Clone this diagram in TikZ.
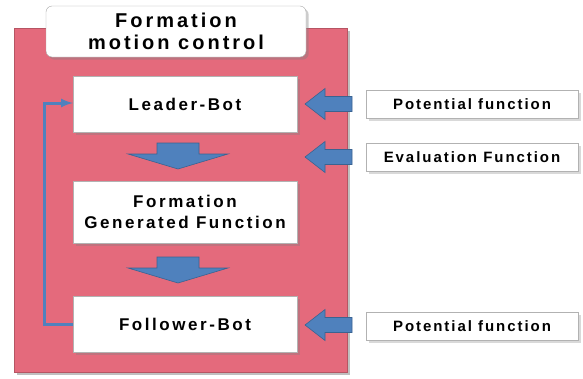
\documentclass[tikz,border=0pt]{standalone}
\usepackage{fontspec}
\setmainfont{Liberation Sans}
\newfontfamily\widesans[LetterSpace=15]{Liberation Sans}
\newfontfamily\inputsans[LetterSpace=13]{Liberation Sans}
\usetikzlibrary{shadows}
\definecolor{panelred}{HTML}{E46A7C}
\definecolor{arrowblue}{HTML}{4F81BD}
\definecolor{arrowedge}{HTML}{3A6391}
\tikzstyle{botbox}=[draw=gray!60,fill=white,drop shadow={opacity=0.35},minimum width=224pt,inner sep=0pt,align=center,font=\widesans\bfseries\fontsize{17}{21}\selectfont]
\tikzstyle{inbox}=[draw=gray!60,fill=white,drop shadow={opacity=0.3},minimum width=212pt,minimum height=28pt,inner sep=0pt,font=\inputsans\bfseries\fontsize{15}{17}\selectfont]
\tikzstyle{blockarr}=[draw=arrowedge,fill=arrowblue,line width=0.6pt]

\begin{document}
\begin{tikzpicture}[x=1pt,y=-1pt]
    \useasboundingbox (0,0) rectangle (583,378);
    \node[fill=panelred,draw=panelred!80!black,drop shadow={opacity=0.5},minimum width=333pt,minimum height=344pt] (panel) at (180.5,200) {};
    \node[fill=white,draw=gray!70,rounded corners=6pt,drop shadow={opacity=0.4},minimum width=260pt,minimum height=51pt,align=center,font=\widesans\bfseries\fontsize{20}{22}\selectfont] (title) at (176,31.5) {Formation\\motion control};

    \node[botbox,minimum height=56pt] (leader) at (185,104) {Leader-Bot};
    \node[botbox,minimum height=62pt] (formgen) at (185,212) {Formation\\Generated Function};
    \node[botbox,minimum height=56pt] (follower) at (185,324) {Follower-Bot};

    \node[inbox] (pot1) at (472,104) {Potential function};
    \node[inbox] (eval) at (472,157) {Evaluation Function};
    \node[inbox] (pot2) at (472,326) {Potential function};

    % down arrows between the boxes
    \foreach \cx/\top in {178/143,178/257}
    \draw[blockarr] (\cx-21,\top) -- (\cx+21,\top) -- (\cx+21,\top+11) -- (\cx+50,\top+11)
        -- (\cx,\top+26) -- (\cx-50,\top+11) -- (\cx-21,\top+11) -- cycle;

    % inputs from the right
    \foreach \y in {104,157,325}
    \draw[blockarr] (352,\y-7.5) -- (325,\y-7.5) -- (325,\y-15.5) -- (305,\y)
        -- (325,\y+15.5) -- (325,\y+7.5) -- (352,\y+7.5) -- cycle;

    \coordinate (fb1) at (44,324);
    \coordinate (fb2) at (44,103);
    \draw[arrowblue,line width=3pt,-latex] (follower.west) -- (fb1) -- (fb2) -- (leader.west |- fb2);
\end{tikzpicture}
\end{document}
